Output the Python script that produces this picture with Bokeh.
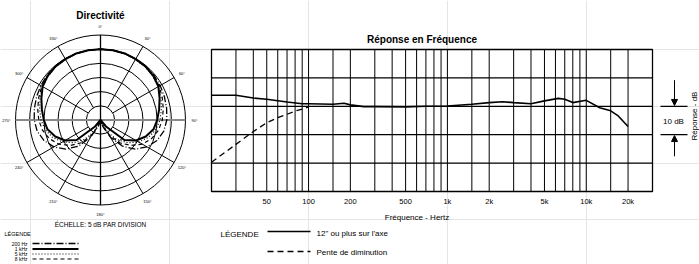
import math
from bokeh.plotting import figure
from bokeh.models import Range1d, LinearScale, Arrow, NormalHead
from bokeh.core.properties import value
from bokeh.embed import file_html
from bokeh.resources import INLINE

FONT = "Liberation Sans"

# ---------------- polar data (dB, 0 deg = front, clockwise) ----------------
polar_angles = list(range(0, 360, 10))
db_200hz = [0, 0, 0, -0.1, -0.2, -0.4, -0.7, -1.0, -1.3, -1.6, -2.3, -3.8, -6.0, -9.0, -13.0, -18.0, -22.5, -25, -25,
            -25, -22.5, -18.0, -13.0, -9.0, -6.0, -3.8, -2.3, -1.6, -1.3, -1.0, -0.7, -0.4, -0.2, -0.1, 0, 0]
db_1khz = [0, 0, 0, -0.2, -0.3, -0.7, -1.4, -2.8, -4.0, -5.0, -6.0, -8.0, -10.5, -14.0, -22.0, -25, -25, -25, -25,
           -25, -25, -25, -22.0, -14.0, -10.5, -8.0, -6.0, -5.0, -4.0, -2.8, -1.4, -0.7, -0.3, -0.2, 0, 0]
db_5khz = [0, 0, -0.1, -0.3, -0.5, -0.9, -1.4, -2.3, -3.2, -4.0, -5.2, -7.0, -9.5, -12.5, -16.0, -20.0, -24.0, -25, -25,
           -25, -24.0, -20.0, -16.0, -12.5, -9.5, -7.0, -5.2, -4.0, -3.2, -2.3, -1.4, -0.9, -0.5, -0.3, -0.1, 0]
db_8khz = [0, 0, -0.1, -0.2, -0.4, -0.7, -1.1, -1.8, -2.5, -3.2, -4.2, -5.8, -8.0, -11.0, -14.5, -19.0, -23.0, -25, -25,
           -25, -23.0, -19.0, -14.5, -11.0, -8.0, -5.8, -4.2, -3.2, -2.5, -1.8, -1.1, -0.7, -0.4, -0.2, -0.1, 0]
polar_series = ["200 Hz", "1 kHz", "5 kHz", "8 kHz"]
ring_db = [-20, -15, -10, -5, 0, 5]
spoke_angles = [30, 60, 120, 150, 210, 240, 300, 330]
angle_label_values = [0, 30, 60, 90, 120, 150, 180, 210, 240, 270, 300, 330]
angle_labels = ["0°", "30°", "60°", "90°", "120°", "150°", "180°", "210°", "240°", "270°", "300°", "330°"]
DB_MIN, DB_MAX = -25, 5

# ---------------- frequency response data ----------------
freq_solid_hz = [20, 30, 40, 50, 70, 90, 100, 150, 180, 200, 250, 300, 500, 700, 1000, 1500, 2000, 2500,
                 3000, 4000, 5000, 6300, 7000, 8000, 10000, 12500, 15000, 17000, 20000]
freq_solid_db = [3.9, 3.9, 2.9, 2.5, 1.5, 0.9, 0.9, 0.7, 1.1, 0.5, -0.1, -0.1, -0.2, 0.0, 0.1, 0.7, 1.3, 1.6,
                 1.3, 0.9, 1.9, 2.8, 2.5, 1.3, 2.1, -0.5, -1.6, -3.4, -7.1]
freq_dash_hz = [20, 30, 40, 50, 60, 70, 80, 90, 100]
freq_dash_db = [-19.7, -13.4, -8.9, -5.8, -4.0, -2.8, -1.7, -1.0, -0.2]
freq_tick_hz = [50, 100, 200, 500, 1000, 2000, 5000, 10000, 20000]
freq_tick_labels = ["50", "100", "200", "500", "1k", "2k", "5k", "10k", "20k"]
freq_grid_hz = [30, 40, 50, 60, 70, 80, 90, 100, 150, 200, 300, 400, 500, 600, 700, 800, 900, 1000, 1500,
                2000, 3000, 4000, 5000, 6000, 7000, 8000, 9000, 10000, 15000, 20000]
db_grid = [-20, -10, 0, 10]
F_MIN, F_MAX = 20, 30000
DB_LO, DB_HI = -30, 20
legend_labels = ["12\" ou plus sur l'axe", "Pente de diminution"]

# ---------------- layout (page pixels) ----------------
W, H = 699, 264
BOX_L, BOX_R, BOX_T, BOX_B = 211, 652, 49, 191
PC_X, PC_Y, R = 100, 119.5, 85.0

dec_px = (BOX_R - BOX_L) / math.log10(F_MAX / F_MIN)
x0 = 10 ** (math.log10(F_MIN) - BOX_L / dec_px)
x1 = 10 ** (math.log10(F_MAX) + (W - BOX_R) / dec_px)
db_px = (DB_HI - DB_LO) / (BOX_B - BOX_T)
y0 = DB_LO - (H - BOX_B) * db_px
y1 = DB_HI + BOX_T * db_px

p = figure(width=W, height=H, x_axis_type="log", x_range=Range1d(x0, x1), y_range=Range1d(y0, y1),
           x_axis_location=None, y_axis_location=None, min_border=0, toolbar_location=None,
           output_backend="svg", outline_line_color=None)
p.extra_x_ranges = {"pol": Range1d(-PC_X, W - PC_X), "page": Range1d(0, W)}
p.extra_y_ranges = {"pol": Range1d(-(H - PC_Y), PC_Y), "page": Range1d(H, 0)}
p.extra_x_scales = {"pol": LinearScale(), "page": LinearScale()}
p.extra_y_scales = {"pol": LinearScale(), "page": LinearScale()}

POL = dict(x_range_name="pol", y_range_name="pol")
PAGE = dict(x_range_name="page", y_range_name="page")


def txt(x, y, t, size, align="center", baseline="middle", bold=False, angle=0.0):
    p.text(x=[x], y=[y], text=[t], text_font=value(FONT), text_font_size=size, angle=angle,
           text_font_style="bold" if bold else "normal", text_align=align,
           text_baseline=baseline, text_color="black", **PAGE)


# =============== polar chart ===============
def rad(db):
    return (max(db, DB_MIN) - DB_MIN) / (DB_MAX - DB_MIN) * R


p.circle(x=[0] * len(ring_db), y=[0] * len(ring_db), radius=[rad(d) for d in ring_db],
         fill_color=None, line_color="black", line_width=1, **POL)
r0 = rad(ring_db[0])
p.segment(x0=[r0 * math.sin(math.radians(a)) for a in spoke_angles],
          y0=[r0 * math.cos(math.radians(a)) for a in spoke_angles],
          x1=[R * math.sin(math.radians(a)) for a in spoke_angles],
          y1=[R * math.cos(math.radians(a)) for a in spoke_angles],
          line_color="black", line_width=1, **POL)
p.segment(x0=[-R], y0=[0], x1=[R], y1=[0], line_color="#8a8a8a", line_width=2, **POL)
p.segment(x0=[0], y0=[-R], x1=[0], y1=[R], line_color="black", line_width=1.3, **POL)

styles = {
    "200 Hz": dict(line_dash="7 2 1 2", line_width=1.3),
    "1 kHz": dict(line_dash="solid", line_width=2),
    "5 kHz": dict(line_dash="1 2", line_width=1.2),
    "8 kHz": dict(line_dash="4 3", line_width=1.2),
}
for name, dbs in zip(polar_series, [db_200hz, db_1khz, db_5khz, db_8khz]):
    xs = [rad(d) * math.sin(math.radians(a)) for a, d in zip(polar_angles, dbs)]
    ys = [rad(d) * math.cos(math.radians(a)) for a, d in zip(polar_angles, dbs)]
    xs.append(xs[0]); ys.append(ys[0])
    p.line(xs, ys, line_color="black", **styles[name], **POL)

RL = 94
p.text(x=[RL * math.sin(math.radians(a)) for a in angle_label_values],
       y=[RL * math.cos(math.radians(a)) for a in angle_label_values],
       text=angle_labels, text_font=value(FONT), text_font_size="4px",
       text_align="center", text_baseline="middle", text_color="black", **POL)

txt(100, 15, "Directivité", "10px", bold=True)
txt(100, 224, "ÉCHELLE: 5 dB PAR DIVISION", "6.5px")
txt(4, 233, "LÉGENDE", "5.5px", align="left")
leg_y = [243.0, 248.5, 253.5, 258.5]
for name, yy in zip(polar_series, leg_y):
    txt(27, yy, name, "5px", align="right")
    p.line([32, 78], [yy, yy], line_color="black", **styles[name], **PAGE)

# =============== frequency response chart ===============
p.segment(x0=freq_grid_hz, y0=[DB_LO] * len(freq_grid_hz), x1=freq_grid_hz, y1=[DB_HI] * len(freq_grid_hz),
          line_color="black", line_width=1)
p.segment(x0=[F_MIN] * len(db_grid), y0=db_grid, x1=[F_MAX] * len(db_grid), y1=db_grid,
          line_color="black", line_width=1.2)
p.quad(left=[F_MIN], right=[F_MAX], bottom=[DB_LO], top=[DB_HI], fill_color=None,
       line_color="black", line_width=1.3)

p.line(freq_solid_hz, freq_solid_db, line_color="black", line_width=1.6)
p.line(freq_dash_hz, freq_dash_db, line_color="black", line_width=1.3, line_dash="6 4")

tick_y = DB_LO - (201.0 - BOX_B) * db_px
p.text(x=freq_tick_hz, y=[tick_y] * len(freq_tick_hz), text=freq_tick_labels, text_font=value(FONT),
       text_font_size="7.5px", text_align="center", text_baseline="alphabetic", text_color="black")

txt(421.5, 38.5, "Réponse en Fréquence", "10px", baseline="alphabetic", bold=True)
txt(416.5, 216.5, "Fréquence - Hertz", "8px", baseline="alphabetic")
txt(220, 234, "LÉGENDE", "8px", align="left", baseline="alphabetic")
p.line([267, 310], [231, 231], line_color="black", line_width=1.6, **PAGE)
p.line([267, 310], [251, 251], line_color="black", line_width=1.3, line_dash="6 4", **PAGE)
txt(316, 232.5, legend_labels[0], "8px", align="left")
txt(316, 251.5, legend_labels[1], "8px", align="left")

# =============== 10 dB scale annotation ===============
p.segment(x0=[660, 660], y0=[0, -10], x1=[687, 687], y1=[0, -10], line_color="black",
          line_width=1.2, x_range_name="page")
p.add_layout(Arrow(x_start=674, y_start=9.2, x_end=674, y_end=0.3, line_width=1, x_range_name="page",
                   end=NormalHead(size=6, fill_color="black", line_color="black")))
p.add_layout(Arrow(x_start=674, y_start=-17.6, x_end=674, y_end=-10.3, line_width=1, x_range_name="page",
                   end=NormalHead(size=6, fill_color="black", line_color="black")))
txt(673, 121, "10 dB", "8px")
txt(694, 115.5, "Réponse - dB", "8px", angle=math.pi / 2)

open("out.html", "w").write(file_html(p, INLINE))
